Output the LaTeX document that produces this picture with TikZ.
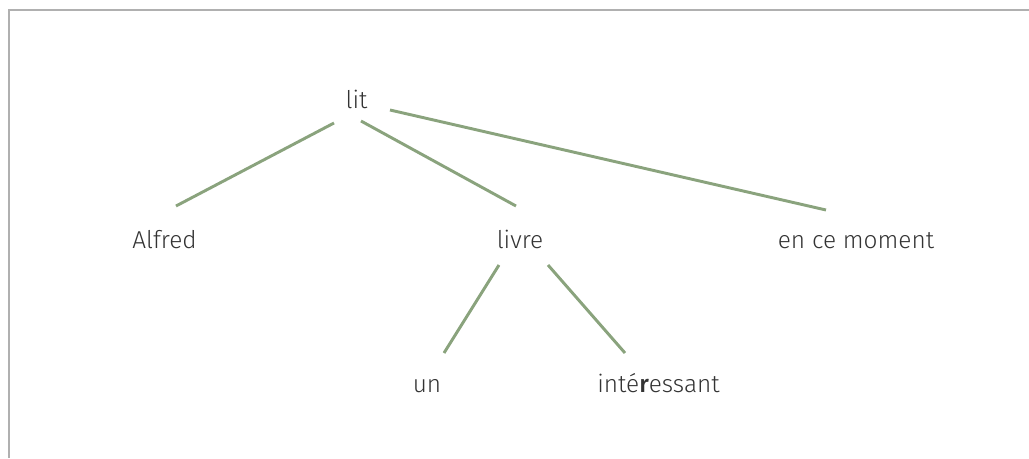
\documentclass[tikz,border=0pt]{standalone}
\usepackage{fontspec}
\setmainfont{Fira Sans}[UprightFont=* Light,BoldFont=* Medium]
\definecolor{branchgreen}{HTML}{8AA37D}
\definecolor{wordgray}{HTML}{333333}
\definecolor{framegray}{HTML}{B0B0B0}
\tikzset{
  word/.style={inner sep=0pt,anchor=base,text=wordgray,font=\fontsize{18.3}{21}\selectfont},
  branch/.style={draw=branchgreen,line width=2.2pt},
}
\begin{document}
\begin{tikzpicture}[x=0.75pt,y=-0.75pt]
                \useasboundingbox (0,0) rectangle (1029,458);
                \draw[framegray,line width=1.5pt] (9,458) -- (9,10) -- (1029,10);
                \node[word] (lit) at (356.5,108) {lit};
                \node[word] (alfred) at (164.5,248) {Alfred};
                \node[word] (livre) at (520,248) {livre};
                \node[word] (moment) at (856,248) {en ce moment};
                \node[word] (un) at (427,392) {un};
                \node[word] (interessant) at (658.5,392) {int\'e\textbf{r}essant};
                \draw[branch] ([shift={(-22.5,15)}]lit.base) -- ([shift={(11.5,-42)}]alfred.base);
                \draw[branch] ([shift={(4.5,13)}]lit.base) -- ([shift={(-4,-42)}]livre.base);
                \draw[branch] ([shift={(33.5,2)}]lit.base) -- ([shift={(-30,-38)}]moment.base);
                \draw[branch] ([shift={(-21,17)}]livre.base) -- ([shift={(17,-39)}]un.base);
                \draw[branch] ([shift={(28,17)}]livre.base) -- ([shift={(-33.5,-39)}]interessant.base);
            \end{tikzpicture}
\end{document}
